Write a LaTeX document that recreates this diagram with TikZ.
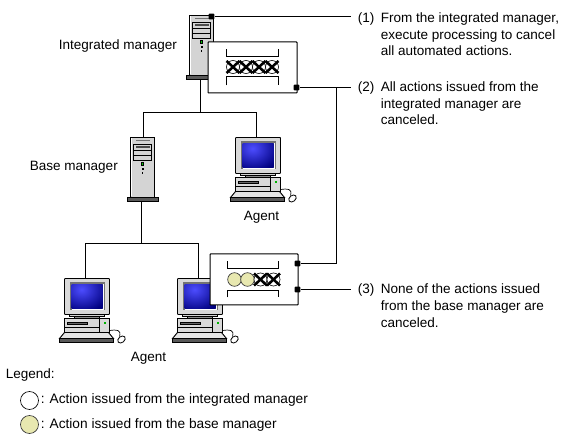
\documentclass[tikz,border=0pt]{standalone}
\usepackage{fontspec}
\setmainfont{Liberation Sans}
\newcommand{\numlbl}[1]{\makebox[17.25pt][l]{#1}}
\begin{document}
\begin{tikzpicture}[x=0.75pt,y=-0.75pt,
  conn/.style={line width=0.75pt,draw=black},
  lbl/.style={anchor=base west,inner sep=0pt,font=\fontsize{10.15}{12}\selectfont},
  leglbl/.style={lbl,font=\fontsize{10.28}{12}\selectfont},
  panel/.style={draw=black,line width=0.75pt,fill=white,rounded corners=0.5pt},
  brk/.style={line width=0.75pt,draw=black},
  dotn/.style={fill=black,inner sep=0pt,minimum size=4.2pt,rectangle,rounded corners=0.6pt},
  xring/.style={draw=black,line width=0.5pt,fill=white},
  xcross/.style={draw=black,line width=1.9pt},
  yring/.style={draw=black!80,line width=0.5pt,fill=ylw},
  pics/server/.style={code={
    \fill[black!17,draw=black,line width=0.6pt] (0,0) -- (24,0) -- (24,60) -- (0,60) -- cycle;
    \draw[white,line width=0.5pt] (0.9,0.9) -- (0.9,59);
    \fill[black!55] (5,3) rectangle (19,4);
    \fill[black!17,draw=black,line width=0.6pt] (3,7) rectangle (21,23);
    \draw[black,line width=0.5pt] (3,12.5) -- (21,12.5) (3,18) -- (21,18);
    \fill[black!70] (5,8.8) rectangle (19,11);
    \fill[black] (10.5,25) rectangle (13.5,29);
    \fill[green!80!black] (11.3,26) rectangle (12.7,28);
    \fill[black] (11,31) rectangle (13,33);
    \fill[black] (11,34.5) rectangle (12.5,36.5);
    \fill[black!65,draw=black,line width=0.6pt] (-3,60) rectangle (28,64);
  }},
  pics/station/.style={code={
    \fill[black!17,draw=black,line width=0.6pt] (5,36) rectangle (40,38);
    \fill[black!45,draw=black,line width=0.5pt] (10,38) rectangle (35,40.5);
    \fill[black!15,draw=black,line width=0.7pt,rounded corners=0.5pt] (0,0) rectangle (45,36);
    \fill[black!55] (5,4) rectangle (40,32);
    \begin{scope}
      \clip (7,6) rectangle (38,30);
      \shade[inner color=blue!70!white,outer color=blue!50!black] (-10,-12) rectangle (44,34);
    \end{scope}
    \draw[white,line width=0.5pt] (38.5,6) -- (38.5,31) -- (7,31);
    \fill[black!15,draw=black,line width=0.7pt] (0,40) rectangle (45,53.5);
    \fill[black!60,draw=black,line width=0.5pt] (3,43.5) rectangle (23,46);
    \draw[black,line width=0.5pt] (0,48.5) -- (35,48.5) (35,40) -- (35,53.5);
    \fill[green!70!black] (39,44) rectangle (41,46);
    \fill[black!10,draw=black,line width=0.7pt] (0,54) -- (44,54) -- (49,60) -- (-5,60) -- cycle;
    \fill[black!65,draw=black,line width=0.5pt] (-5,60) rectangle (49,63.5);
    \draw[black,line width=0.5pt] (45,52) .. controls (52,51) and (57,51) .. (55,58);
    \fill[white,draw=black,line width=0.6pt,rotate around={40:(57,61)}] (57,61) ellipse (4.2 and 3);
  }}
]
\definecolor{ylw}{HTML}{E8E8B0}
\useasboundingbox (0,0) rectangle (575,441);
\fill[white] (0,0) rectangle (575,441);
\begin{scope}[shift={(0.5,0.5)}]

% named connection points
\coordinate (intDown) at (200,79);
\coordinate (forkTop) at (200,112);
\coordinate (forkL) at (143,112);
\coordinate (forkR) at (256,112);
\coordinate (baseTop) at (143,137);
\coordinate (agentTop) at (256,137);
\coordinate (baseDown) at (141,202);
\coordinate (lowFork) at (141,243);
\coordinate (lowL) at (85,243);
\coordinate (lowR) at (198,243);
\coordinate (agL) at (85,278);
\coordinate (agR) at (198,278);
\coordinate (end1) at (350,16);
\coordinate (end2) at (350,87);
\coordinate (end3) at (350,289);
\coordinate (bend) at (336,87);
\coordinate (bendLow) at (336,263);

\draw[conn] (intDown) -- (forkTop) (forkL) -- (forkR) (forkL) -- (baseTop) (forkR) -- (agentTop);
\draw[conn] (baseDown) -- (lowFork) (lowL) -- (lowR) (lowL) -- (agL) (lowR) -- (agR);

\pic at (189,15) {server};
\pic at (130,137) {server};
\pic at (235,137) {station};
\pic at (64,278) {station};
\pic at (177,278) {station};

% panel 1
\node[panel,minimum width=66.75pt,minimum height=38.25pt,inner sep=0pt,anchor=north west] (p1) at (207,41) {};
\draw[brk] (226,49) -- (226,56) -- (278,56) -- (278,49);
\draw[brk] (226,85) -- (226,76) -- (278,76) -- (278,85);
\foreach \cx in {232.5,245.5,258.5,271.5}{
  \draw[xring] (\cx,66.5) circle (6.5);
  \draw[xcross] (\cx-6.5,60.5) -- (\cx+6.5,72.5) (\cx-6.5,72.5) -- (\cx+6.5,60.5);
}
% panel 2
\node[panel,minimum width=66pt,minimum height=38.25pt,inner sep=0pt,anchor=north west] (p2) at (209,253) {};
\draw[brk] (227,261) -- (227,268) -- (278,268) -- (278,261);
\draw[brk] (227,297) -- (227,290) -- (278,290) -- (278,297);
\draw[yring] (234,279) circle (6.8);
\draw[yring] (247,279) circle (6.8);
\foreach \cx in {260,273}{
  \draw[xring] (\cx,279) circle (6.5);
  \draw[xcross] (\cx-6.5,273) -- (\cx+6.5,285) (\cx-6.5,285) -- (\cx+6.5,273);
}

% dots
\node[dotn] (d1) at (211,16) {};
\node[dotn] (d2) at (296,87) {};
\node[dotn] (d3) at (297,263) {};
\node[dotn] (d4) at (297,289) {};
\draw[conn] (d1) -- (end1);
\draw[conn] (d2) -- (end2);
\draw[conn] (bend) -- (bendLow) -- (d3);
\draw[conn] (d4) -- (end3);

% labels
\node[lbl] (t1a) at (357,22) {\numlbl{(1)}From the integrated manager,};
\node[lbl] (t1b) at (380,39) {execute processing to cancel};
\node[lbl] (t1c) at (380,55) {all automated actions.};
\node[lbl] (t2a) at (357,91) {\numlbl{(2)}All actions issued from the};
\node[lbl] (t2b) at (380,108) {integrated manager are};
\node[lbl] (t2c) at (380,124) {canceled.};
\node[lbl] (t3a) at (357,293) {\numlbl{(3)}None of the actions issued};
\node[lbl] (t3b) at (380,310) {from the base manager are};
\node[lbl] (t3c) at (380,327) {canceled.};
\node[lbl] (nInt) at (58,49) {Integrated manager};
\node[lbl] (nBase) at (29,170) {Base manager};
\node[lbl] (nAg1) at (243,220) {Agent};
\node[lbl] (nAg2) at (130,361) {Agent};
\node[lbl] (nLeg) at (5,378) {Legend:};
\draw[xring] (29,400) circle (9);
\draw[yring] (29,424) circle (9);
\node[leglbl] (nL1) at (40,403) {: Action issued from the integrated manager};
\node[leglbl] (nL2) at (40,428) {: Action issued from the base manager};
\end{scope}
\end{tikzpicture}
\end{document}
